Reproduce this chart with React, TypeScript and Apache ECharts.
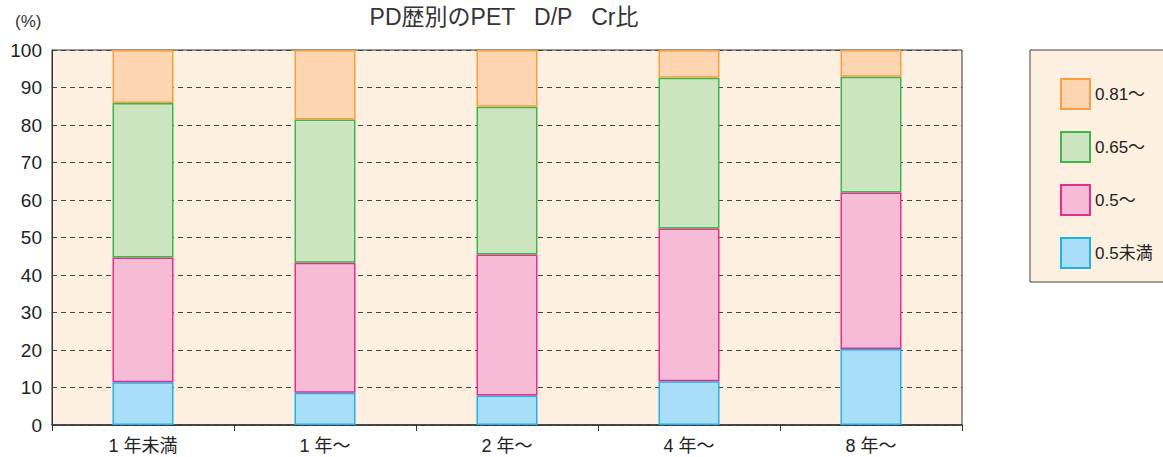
import React, { useEffect, useRef } from "react";
import * as echarts from "echarts";

const categories = ["1 年未満", "1 年〜", "2 年〜", "4 年〜", "8 年〜"];
const seriesNames = ["0.5未満", "0.5〜", "0.65〜", "0.81〜"];
const under05 = [11.4, 8.6, 7.9, 11.7, 20.3];
const from05 = [33.3, 34.7, 37.6, 40.7, 41.7];
const from065 = [41.2, 38.2, 39.4, 40.2, 30.9];
const from081 = [14.1, 18.5, 15.1, 7.4, 7.1];
const yTicks = [0, 10, 20, 30, 40, 50, 60, 70, 80, 90, 100];

const fills = ["#a9def9", "#f6bcd6", "#cce5c0", "#fdd5b1"];
const borders = ["#1fb2e8", "#ea2a8f", "#3cb84a", "#f7a03c"];
const values = [under05, from05, from065, from081];

const FONT = "'Liberation Sans', Arial, 'Noto Sans CJK JP', sans-serif";

export default function App() {
  const ref = useRef<HTMLDivElement>(null);
  useEffect(() => {
    document.body.style.margin = "0";
    const chart = echarts.init(ref.current!, undefined, { renderer: "svg" });
    chart.setOption({
      animation: false,
      backgroundColor: "#ffffff",
      textStyle: { fontFamily: FONT },
      title: [
        {
          text: "PD歴別のPET   D/P   Cr比",
          left: 499,
          top: 0,
          textAlign: "center",
          textStyle: { fontSize: 23, fontWeight: "normal", color: "#333", fontFamily: FONT },
        },
        {
          text: "(%)",
          left: 15,
          top: 13,
          padding: 0,
          textStyle: { fontSize: 17, fontWeight: "normal", color: "#333", fontFamily: FONT },
        },
      ],
      graphic: [
        {
          type: "rect",
          shape: { x: 1030, y: 50, width: 140, height: 232 },
          style: { fill: "#fdf0e0", stroke: "#444", lineWidth: 1 },
          z: 0,
        },
      ],
      legend: {
        orient: "vertical",
        left: 1055,
        top: 73,
        itemWidth: 29,
        itemHeight: 30,
        itemGap: 21,
        icon: "rect",
        data: [...seriesNames].reverse(),
        textStyle: { fontSize: 17, color: "#222", fontFamily: FONT },
        z: 5,
      },
      grid: {
        left: 52,
        top: 50,
        width: 910,
        height: 375,
        show: true,
        backgroundColor: "#fdf0e0",
        borderColor: "#333",
        borderWidth: 1,
      },
      xAxis: {
        type: "category",
        data: categories,
        axisLine: { lineStyle: { color: "#333", width: 1.5 } },
        axisTick: { show: true, length: 6, lineStyle: { color: "#333" } },
        axisLabel: { fontSize: 18, color: "#222", margin: 12, fontFamily: FONT },
      },
      yAxis: {
        type: "value",
        min: 0,
        max: 100,
        interval: 10,
        axisLine: { show: true, lineStyle: { color: "#333" } },
        axisTick: { show: false },
        axisLabel: {
          fontSize: 19,
          color: "#222",
          margin: 10,
          fontFamily: FONT,
          formatter: (v: number) => (yTicks.includes(v) ? String(v) : ""),
        },
        splitLine: { show: true, lineStyle: { color: "#444", type: [5, 4], width: 1 } },
      },
      series: seriesNames.map((name, i) => ({
        name,
        type: "bar",
        stack: "total",
        barWidth: 61,
        data: values[i],
        itemStyle: { color: fills[i], borderColor: borders[i], borderWidth: 1.5 },
        emphasis: { disabled: true },
      })),
    });
    return () => chart.dispose();
  }, []);
  return <div ref={ref} style={{ width: 1163, height: 457 }} />;
}
